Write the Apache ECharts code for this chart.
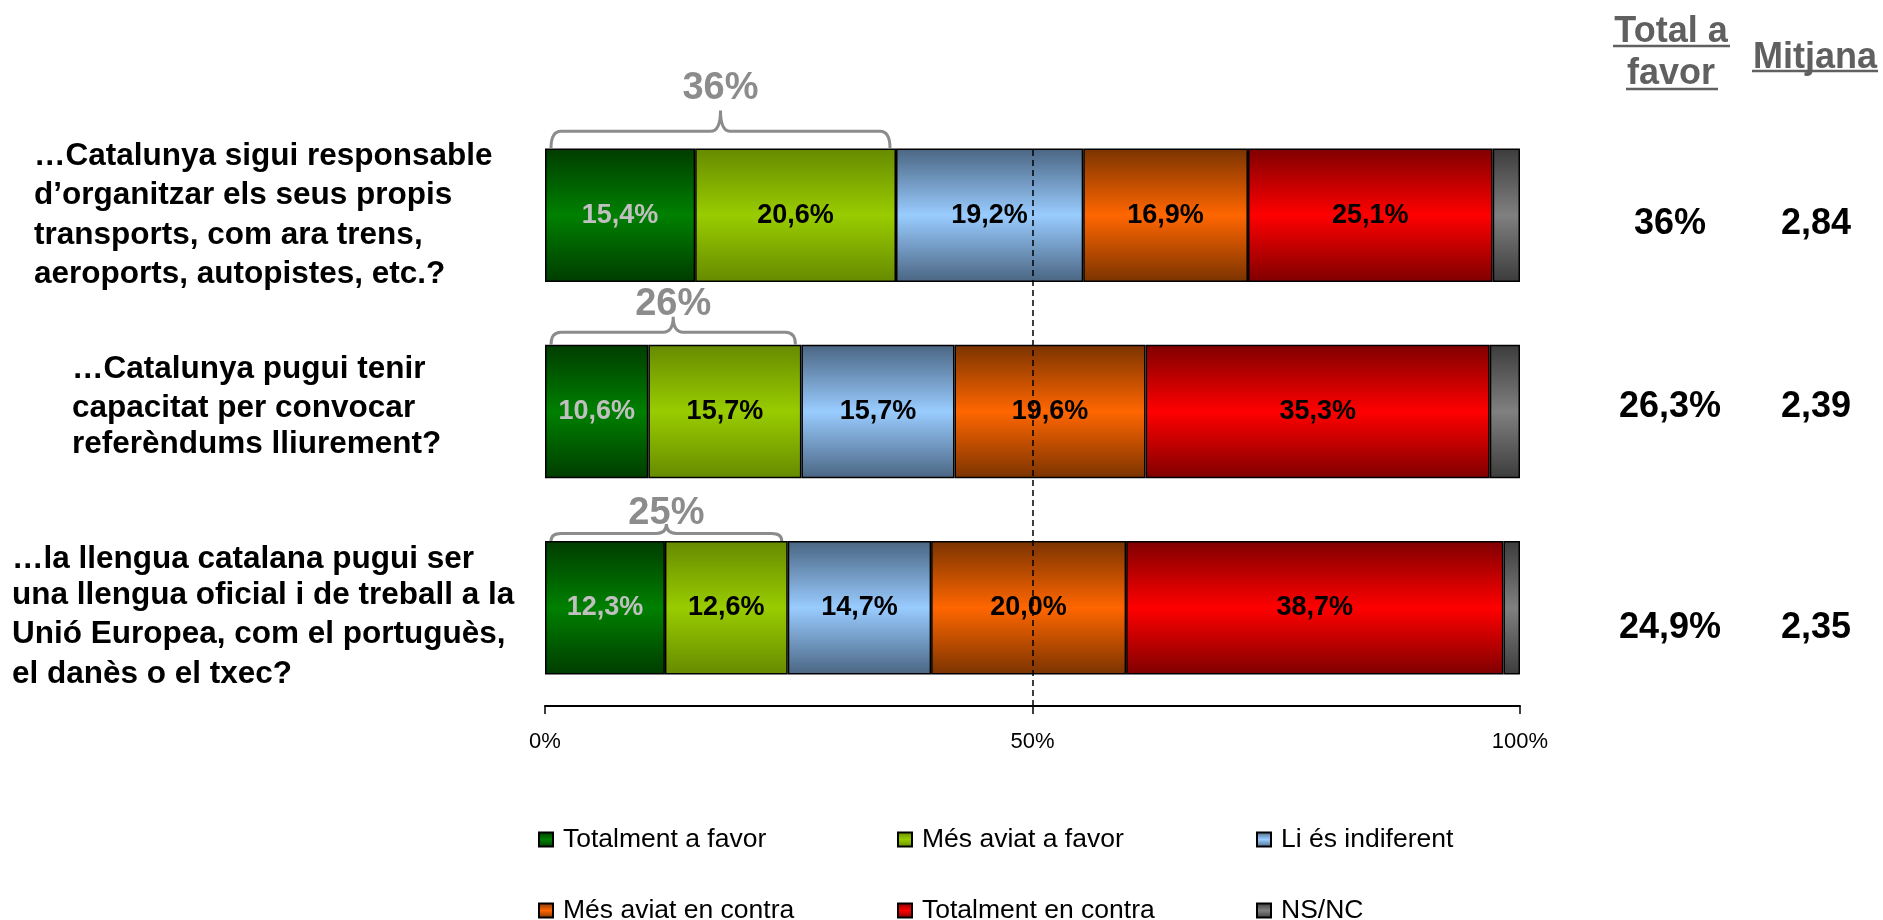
<!DOCTYPE html>
<html>
<head>
<meta charset="utf-8">
<script src="https://cdn.jsdelivr.net/npm/echarts@6/dist/echarts.min.js"></script>
<style>
    html, body { margin: 0; padding: 0; background: #fff; }
    #main { width: 1883px; height: 920px; }
</style>
</head>
<body>
<div id="main"></div>
<script>
// preguntes (eix vertical)
var questions = [
    '…Catalunya sigui responsable\nd’organitzar els seus propis\ntransports, com ara trens,\naeroports, autopistes, etc.?',
    '…Catalunya pugui tenir\ncapacitat per convocar\nreferèndums lliurement?',
    '…la llengua catalana pugui ser\nuna llengua oficial i de treball a la\nUnió Europea, com el portuguès,\nel danès o el txec?'
];
var answerNames = ['Totalment a favor', 'Més aviat a favor', 'Li és indiferent',
    'Més aviat en contra', 'Totalment en contra', 'NS/NC'];

// percentatges per resposta
var totalmentFavor = [15.4, 10.6, 12.3];
var mesAviatFavor = [20.6, 15.7, 12.6];
var indiferent = [19.2, 15.7, 14.7];
var mesAviatContra = [16.9, 19.6, 20.0];
var totalmentContra = [25.1, 35.3, 38.7];
var nsnc = [2.8, 3.1, 1.7];

// columnes de la dreta
var totalAFavor = [36, 26.3, 24.9];
var mitjana = [2.84, 2.39, 2.35];

var FONT = '"Liberation Sans", Arial, sans-serif';
// ajustos de posició per fila (px)
var labelIndent = [22, 60, 0];
var leftShift = [0, -3, 7];
var rightShift = [9, -4, 20];
var braceDepth = [38, 28, 17];
var braceLabelGap = [22, 12, 11];

function pct(v) {
    return v.toFixed(1).replace('.', ',') + '%';
}
function fmtTotal(v) {
    return (v % 1 === 0 ? String(v) : v.toFixed(1).replace('.', ',')) + '%';
}
function fmtMean(v) {
    return v.toFixed(2).replace('.', ',');
}
function grad(edge, mid) {
    return {
        type: 'linear', x: 0, y: 0, x2: 0, y2: 1,
        colorStops: [
            {offset: 0, color: edge},
            {offset: 0.5, color: mid},
            {offset: 1, color: edge}
        ]
    };
}

var seriesValues = [totalmentFavor, mesAviatFavor, indiferent, mesAviatContra, totalmentContra, nsnc];
var fills = [
    grad('#003c00', '#008000'),
    grad('#668a00', '#99cc00'),
    grad('#4a6582', '#99ccff'),
    grad('#7a3300', '#ff6600'),
    grad('#7f0000', '#ff0000'),
    grad('#3c3c3c', '#808080')
];
var labelColors = ['#c0c0c0', '#000', '#000', '#000', '#000', '#000'];

// estils rich per moure verticalment els blocs de text de l'eix
var LINE_H = 39.5;
var qStyle = {fontFamily: FONT, fontWeight: 'bold', fontSize: 31.5, color: '#000'};
var qRich = {};
leftShift.forEach(function (s, i) {
    qRich['f' + i] = echarts.util.extend({
        lineHeight: LINE_H + Math.max(s, 0) * 2,
        verticalAlign: s > 0 ? 'bottom' : 'middle'
    }, qStyle);
    qRich['l' + i] = echarts.util.extend({
        lineHeight: LINE_H + Math.max(-s, 0) * 2,
        verticalAlign: s < 0 ? 'top' : 'middle'
    }, qStyle);
});

var chart = echarts.init(document.getElementById('main'));

var series = seriesValues.map(function (vals, i) {
    return {
        name: answerNames[i],
        type: 'bar',
        stack: 'total',
        barCategoryGap: '32%',
        data: vals,
        itemStyle: {
            color: fills[i],
            borderColor: '#000',
            borderWidth: 1.5
        },
        label: {
            show: i < 5,
            position: 'inside',
            formatter: function (p) { return pct(p.value); },
            fontFamily: FONT,
            fontWeight: 'bold',
            fontSize: 27,
            color: labelColors[i]
        },
        emphasis: {disabled: true}
    };
});

// línia del 50%
series[0].markLine = {
    silent: true,
    symbol: 'none',
    label: {show: false},
    lineStyle: {color: '#000', type: [6, 4], width: 1.5},
    data: [[{coord: [50, 0], y: 150}, {coord: [50, 0], y: 706}]]
};

// claus amb el total a favor
series.push({
    type: 'custom',
    name: 'clau',
    silent: true,
    z: 6,
    encode: {x: 0, y: 1},
    data: questions.map(function (q, i) {
        return [totalmentFavor[i] + mesAviatFavor[i], i];
    }),
    renderItem: function (params, api) {
        var i = params.dataIndex;
        var total = api.value(0);
        var idx = api.value(1);
        var p0 = api.coord([0, idx]);
        var p1 = api.coord([total, idx]);
        var half = api.size([0, 1])[1] * 0.68 / 2;
        var top = p0[1] - half;
        var x0 = p0[0] + 6, x1 = p1[0] - 6, xm = (x0 + x1) / 2;
        var depth = braceDepth[i];
        var ym = top - depth * 0.45, yp = top - depth, r = 10;
        var d = ['M', x0, top, 'Q', x0, ym, x0 + r, ym,
            'L', xm - r, ym, 'Q', xm, ym, xm, yp,
            'Q', xm, ym, xm + r, ym,
            'L', x1 - r, ym, 'Q', x1, ym, x1, top].join(' ');
        return {
            type: 'group',
            children: [{
                type: 'path',
                shape: {pathData: d},
                style: {fill: 'none', stroke: '#8c8c8c', lineWidth: 3}
            }, {
                type: 'text',
                style: {
                    text: Math.round(total) + '%',
                    x: xm,
                    y: yp - braceLabelGap[i],
                    align: 'center',
                    verticalAlign: 'middle',
                    fill: '#8c8c8c',
                    font: 'bold 38px ' + FONT
                }
            }]
        };
    }
});

// columnes "Total a favor" i "Mitjana" alineades amb cada barra
series.push({
    type: 'custom',
    name: 'columnes',
    silent: true,
    clip: false,
    encode: {x: 0, y: 1},
    data: questions.map(function (q, i) { return [100, i]; }),
    renderItem: function (params, api) {
        var i = params.dataIndex;
        var p = api.coord([api.value(0), api.value(1)]);
        var y = p[1] + rightShift[i];
        var font = 'bold 36px ' + FONT;
        return {
            type: 'group',
            children: [{
                type: 'text',
                style: {text: fmtTotal(totalAFavor[i]), x: p[0] + 150, y: y, align: 'center', verticalAlign: 'middle', font: font, fill: '#000'}
            }, {
                type: 'text',
                style: {text: fmtMean(mitjana[i]), x: p[0] + 296, y: y, align: 'center', verticalAlign: 'middle', font: font, fill: '#000'}
            }]
        };
    }
});

chart.setOption({
    animation: false,
    grid: {left: 545, right: 363, top: 117, bottom: 214, outerBoundsMode: 'none', containLabel: false},
    legend: {
        data: answerNames,
        left: 538,
        top: 809,
        width: 1090,
        padding: 0,
        icon: 'rect',
        itemWidth: 14,
        itemHeight: 14,
        itemGap: 10,
        selectedMode: false,
        textStyle: {
            fontFamily: FONT,
            fontSize: 26.5,
            color: '#000',
            width: 324,
            lineHeight: 61,
            padding: [0, 0, 0, 5]
        }
    },
    xAxis: {
        type: 'value',
        min: 0,
        max: 100,
        interval: 50,
        splitLine: {show: false},
        axisLine: {show: true, lineStyle: {color: '#000', width: 2}},
        axisTick: {show: true, length: 8, lineStyle: {color: '#000', width: 1.5}},
        axisLabel: {
            formatter: '{value}%',
            fontFamily: FONT,
            fontSize: 22,
            color: '#000',
            margin: 25
        }
    },
    yAxis: {
        type: 'category',
        inverse: true,
        data: questions.map(function (q, i) {
            return {
                value: q,
                textStyle: {align: 'left', verticalAlign: 'middle', padding: [0, 0, 0, labelIndent[i]]}
            };
        }),
        axisLine: {show: false},
        axisTick: {show: false},
        axisLabel: {
            interval: 0,
            align: 'left',
            margin: 533,
            fontFamily: FONT,
            fontWeight: 'bold',
            fontSize: 31.5,
            lineHeight: LINE_H,
            color: '#000',
            formatter: function (value, index) {
                var lines = value.split('\n');
                var last = lines.length - 1;
                lines[0] = '{f' + index + '|' + lines[0] + '}';
                lines[last] = '{l' + index + '|' + lines[last] + '}';
                return lines.join('\n');
            },
            rich: qRich
        }
    },
    graphic: [
        {type: 'text', style: {text: 'Total a', x: 1671, y: 32, align: 'center', verticalAlign: 'middle', font: 'bold 36px ' + FONT, fill: '#606060'}},
        {type: 'text', style: {text: 'favor', x: 1671, y: 74, align: 'center', verticalAlign: 'middle', font: 'bold 36px ' + FONT, fill: '#606060'}},
        {type: 'text', style: {text: 'Mitjana', x: 1815, y: 58, align: 'center', verticalAlign: 'middle', font: 'bold 36px ' + FONT, fill: '#606060'}},
        {type: 'line', shape: {x1: 1613, y1: 46, x2: 1730, y2: 46}, style: {stroke: '#606060', lineWidth: 2.5}},
        {type: 'line', shape: {x1: 1626, y1: 89, x2: 1718, y2: 89}, style: {stroke: '#606060', lineWidth: 2.5}},
        {type: 'line', shape: {x1: 1752, y1: 71, x2: 1878, y2: 71}, style: {stroke: '#606060', lineWidth: 2.5}}
    ],
    series: series
});
</script>
</body>
</html>
